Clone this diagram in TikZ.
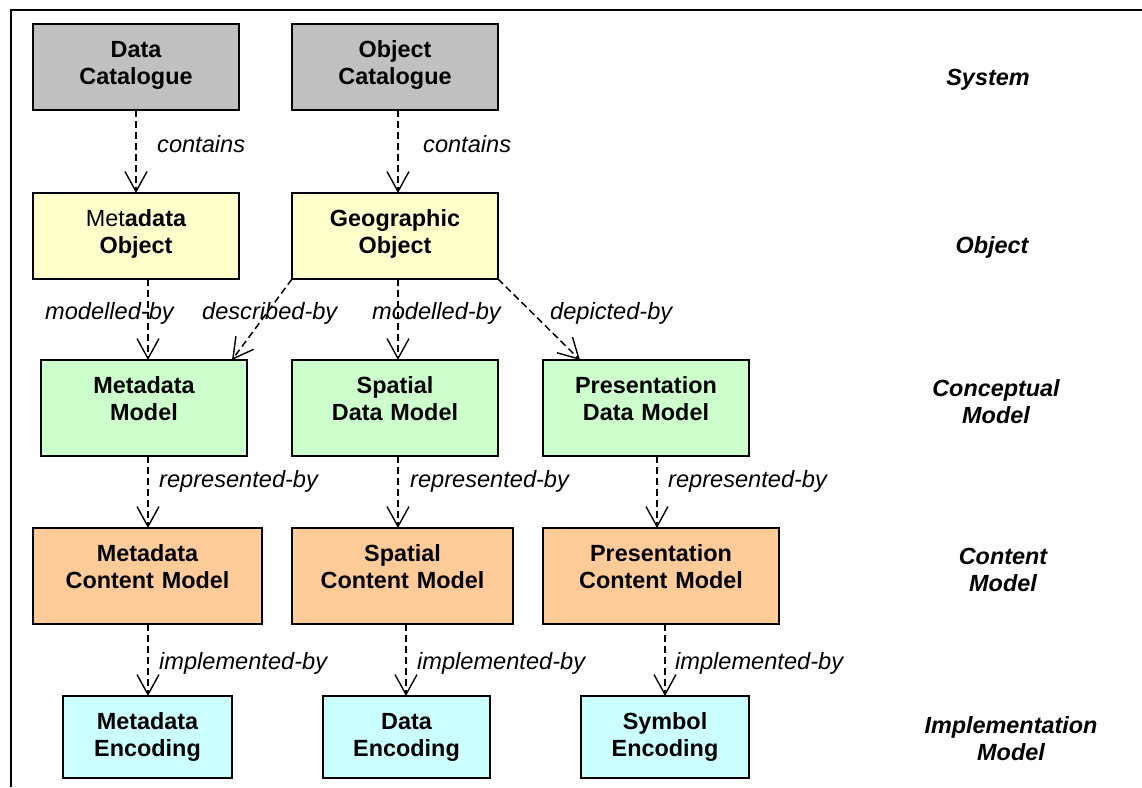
\documentclass[tikz,border=0pt]{standalone}
\usepackage{fontspec}
\setmainfont{Liberation Sans}
\usetikzlibrary{arrows.meta}

\definecolor{catgray}{HTML}{C0C0C0}
\definecolor{objyellow}{HTML}{FFFFCC}
\definecolor{concgreen}{HTML}{CCFFCC}
\definecolor{contorange}{HTML}{FFCC99}
\definecolor{implcyan}{HTML}{CCFFFF}

\tikzset{
  tile/.style={draw=black, line width=1.6pt, rectangle, inner sep=0pt, outer sep=0pt},
  tiletext/.style={anchor=base, text width=240pt, align=center, inner sep=0pt,
    font=\fontsize{23.4}{27.5}\selectfont\bfseries},
  rel/.style={draw=black, line width=1.5pt, dash pattern=on 7pt off 4pt,
    -{Straight Barb[length=20pt,width=22pt,line width=1.4pt]}},
  rellabel/.style={anchor=base west, inner sep=0pt,
    font=\fontsize{23.6}{27.5}\selectfont\itshape},
  layer/.style={anchor=base, text width=240pt, align=center, inner sep=0pt,
    font=\fontsize{23.4}{27.5}\selectfont\bfseries\itshape},
}

% #1 name, #2 left, #3 top, #4 right, #5 bottom, #6 fill, #7 text
\newcommand\tilebox[7]{%
  \node[tile, fill=#6, minimum width={#4-#2}, minimum height={#5-#3}]
    (#1) at ({(#2+#4)/2},{(#3+#5)/2}) {};
  \node[tiletext] (#1-t) at ({(#2+#4)/2},{#3+33}) {#7};
}

\begin{document}
\begin{tikzpicture}[x=1pt,y=-1pt]
\useasboundingbox (0,0) rectangle (1142,787);

% outer frame (top and left edges)
\draw[line width=2.2pt] (11,787) -- (11,10) -- (1142,10);

% system level
\tilebox{dc}{33}{24}{239}{110}{catgray}{Data\\Catalogue}
\tilebox{oc}{292}{24}{498}{110}{catgray}{Object\\Catalogue}

% object level
\tilebox{mo}{33}{193}{239}{279}{objyellow}{{\mdseries Met}adata\\Object}
\tilebox{go}{292}{193}{498}{279}{objyellow}{Geographic\\Object}

% conceptual models
\tilebox{mm}{41}{360}{247}{456}{concgreen}{Metadata\\Model}
\tilebox{sdm}{292}{360}{498}{456}{concgreen}{Spatial\\Data Model}
\tilebox{pdm}{543}{360}{749}{456}{concgreen}{Presentation\\Data Model}

% content models
\tilebox{mcm}{33}{528}{262}{624}{contorange}{Metadata\\Content Model}
\tilebox{scm}{292}{528}{513}{624}{contorange}{Spatial\\Content Model}
\tilebox{pcm}{543}{528}{779}{624}{contorange}{Presentation\\Content Model}

% encodings
\tilebox{me}{63}{696}{232}{778}{implcyan}{Metadata\\Encoding}
\tilebox{de}{323}{696}{490}{778}{implcyan}{Data\\Encoding}
\tilebox{se}{581}{696}{749}{778}{implcyan}{Symbol\\Encoding}

% relations
\draw[rel] (dc.south) -- (mo.north);
\draw[rel] ([xshift=3]oc.south) -- ([xshift=3]go.north);
\draw[rel] ([xshift=12]mo.south) -- ([xshift=4]mm.north);
\draw[rel] (go.south west) -- ([xshift=-15]mm.north east);
\draw[rel] ([xshift=3]go.south) -- ([xshift=3]sdm.north);
\draw[rel] (go.south east) -- ([xshift=37]pdm.north west);
\draw[rel] ([xshift=4]mm.south) -- ([xshift=0.5]mcm.north);
\draw[rel] ([xshift=3]sdm.south) -- ([xshift=-4.5]scm.north);
\draw[rel] ([xshift=11]pdm.south) -- ([xshift=-4]pcm.north);
\draw[rel] ([xshift=0.5]mcm.south) -- ([xshift=0.5]me.north);
\draw[rel] ([xshift=3.5]scm.south) -- ([xshift=-0.5]de.north);
\draw[rel] ([xshift=4]pcm.south) -- (se.north);

% relation labels
\node[rellabel] (l1) at (157,152) {contains};
\node[rellabel] (l2) at (423,152) {contains};
\node[rellabel] (l3) at (45,319) {modelled-by};
\node[rellabel] (l4) at (202,319) {described-by};
\node[rellabel] (l5) at (372,319) {modelled-by};
\node[rellabel] (l6) at (550,319) {depicted-by};
\node[rellabel] (l7) at (159,487) {represented-by};
\node[rellabel] (l8) at (410,487) {represented-by};
\node[rellabel] (l9) at (668,487) {represented-by};
\node[rellabel] (l10) at (159,669) {implemented-by};
\node[rellabel] (l11) at (417,669) {implemented-by};
\node[rellabel] (l12) at (675,669) {implemented-by};

% level names
\node[layer] (sys) at (988,85) {System};
\node[layer] (obj) at (992,253) {Object};
\node[layer] (con) at (996,396) {Conceptual\\Model};
\node[layer] (cnt) at (1003,564) {Content\\Model};
\node[layer] (imp) at (1011,733) {Implementation\\Model};
\end{tikzpicture}
\end{document}
